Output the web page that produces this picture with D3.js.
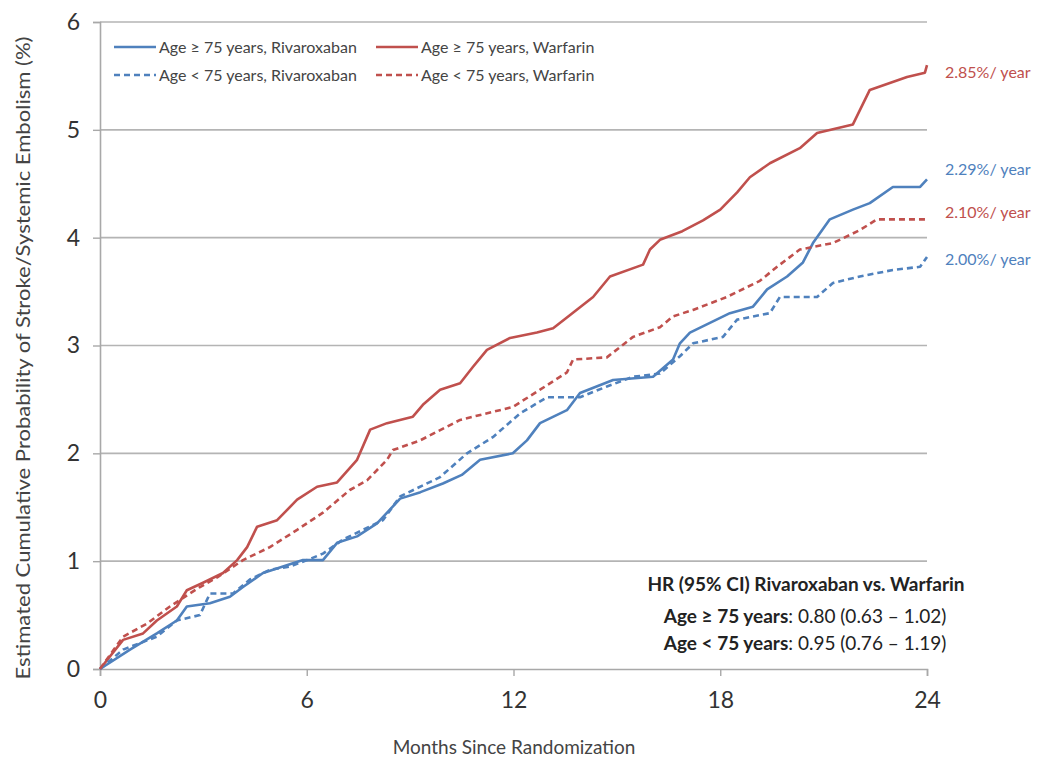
<!DOCTYPE html>
<html>
<head>
<meta charset="utf-8">
<script src="https://cdn.jsdelivr.net/npm/d3@7"></script>
<style>
  html, body { margin: 0; padding: 0; background: #fff; }
  svg { display: block; font-family: Lato, "Open Sans", sans-serif; }
</style>
</head>
<body>
<svg id="chart" width="1039" height="757"></svg>
<script>
// Cumulative incidence of stroke/systemic embolism, [month, %]
const rivaroxabanOld = [
  [0,0],[0.87,0.18],[1.65,0.33],[2.23,0.45],[2.52,0.58],[3.19,0.61],[3.77,0.67],[4.15,0.76],
  [4.73,0.89],[5.31,0.95],[5.89,1.01],[6.47,1.01],[6.88,1.17],[7.46,1.23],[8.04,1.35],[8.42,1.48],
  [8.71,1.58],[9.3,1.64],[9.95,1.72],[10.5,1.8],[11.03,1.94],[11.98,2.00],[12.39,2.12],[12.77,2.28],
  [13.55,2.40],[13.93,2.56],[14.89,2.68],[16.05,2.71],[16.63,2.87],[16.83,3.02],[17.12,3.12],
  [17.70,3.21],[18.28,3.30],[18.95,3.36],[19.36,3.52],[19.94,3.64],[20.40,3.77],[20.69,3.95],
  [21.18,4.17],[21.85,4.26],[22.34,4.32],[23.01,4.47],[23.80,4.47],[24,4.54]
];
const warfarinOld = [
  [0,0],[0.67,0.27],[1.25,0.33],[1.65,0.45],[2.23,0.58],[2.52,0.73],[2.99,0.80],[3.57,0.89],
  [3.98,1.01],[4.27,1.13],[4.56,1.32],[5.14,1.38],[5.72,1.57],[6.30,1.69],[6.88,1.73],[7.46,1.94],
  [7.84,2.22],[8.33,2.28],[9.08,2.34],[9.37,2.45],[9.87,2.59],[10.45,2.65],[10.82,2.80],[11.23,2.96],
  [11.90,3.07],[12.68,3.12],[13.15,3.16],[13.55,3.26],[14.31,3.45],[14.80,3.64],[15.76,3.75],
  [15.96,3.89],[16.25,3.98],[16.9,4.06],[17.50,4.16],[18.0,4.26],[18.49,4.42],[18.86,4.56],
  [19.44,4.69],[20.31,4.83],[20.81,4.97],[21.85,5.05],[22.34,5.37],[23.42,5.49],[23.94,5.53],[24,5.6]
];
const rivaroxabanYoung = [
  [0,0],[0.67,0.18],[1.65,0.30],[2.23,0.45],[2.90,0.50],[3.19,0.70],[3.86,0.70],[4.35,0.83],
  [4.93,0.92],[5.51,0.95],[6.01,1.01],[6.47,1.07],[7.05,1.20],[7.63,1.29],[8.21,1.38],[8.71,1.60],
  [9.87,1.78],[10.65,2.00],[11.40,2.15],[12.19,2.37],[12.97,2.52],[13.93,2.52],[14.71,2.62],
  [15.47,2.71],[16.25,2.74],[16.83,2.90],[17.21,3.02],[18.08,3.08],[18.49,3.24],[19.44,3.30],
  [19.73,3.45],[20.81,3.45],[21.27,3.58],[22.05,3.64],[23.01,3.70],[23.80,3.73],[24,3.82]
];
const warfarinYoung = [
  [0,0],[0.67,0.30],[1.36,0.42],[2.03,0.58],[2.90,0.76],[3.40,0.85],[4.15,1.01],[4.93,1.13],
  [5.72,1.29],[6.47,1.45],[7.25,1.66],[7.75,1.75],[8.33,1.94],[8.50,2.03],[9.29,2.12],[10.45,2.31],
  [11.98,2.43],[12.77,2.59],[13.55,2.75],[13.73,2.87],[14.71,2.89],[15.47,3.08],[16.25,3.17],
  [16.63,3.27],[17.21,3.33],[18.19,3.45],[19.15,3.60],[19.65,3.73],[20.31,3.89],[21.27,3.95],
  [22.05,4.07],[22.55,4.17],[24,4.17]
];

const xTicks = [0, 6, 12, 18, 24];
const yTicks = [0, 1, 2, 3, 4, 5, 6];
const legendLabels = [
  "Age \u2265 75 years, Rivaroxaban", "Age \u2265 75 years, Warfarin",
  "Age < 75 years, Rivaroxaban", "Age < 75 years, Warfarin"
];
const rateLabels = ["2.85%/ year", "2.29%/ year", "2.10%/ year", "2.00%/ year"];
const hrTitle = "HR (95% CI) Rivaroxaban vs. Warfarin";
const hrGroups = ["Age \u2265 75 years", "Age < 75 years"];
const hrValues = [": 0.80 (0.63 \u2013 1.02)", ": 0.95 (0.76 \u2013 1.19)"];

const BLUE = "#4f81bd", RED = "#c0504d";
const series = [
  { data: rivaroxabanOld,   color: BLUE, dash: null,  label: legendLabels[0] },
  { data: warfarinOld,      color: RED,  dash: null,  label: legendLabels[1] },
  { data: rivaroxabanYoung, color: BLUE, dash: "6,4", label: legendLabels[2] },
  { data: warfarinYoung,    color: RED,  dash: "6,4", label: legendLabels[3] }
];

const svg = d3.select("#chart");
const x = d3.scaleLinear().domain([0, 24]).range([100, 927]);
const y = d3.scaleLinear().domain([0, 6]).range([669, 22]);

// gridlines
svg.append("g").selectAll("line").data(yTicks.filter(d => d > 0)).join("line")
  .attr("x1", x(0)).attr("x2", x(24))
  .attr("y1", d => y(d)).attr("y2", d => y(d))
  .attr("stroke", "#b4b4b4").attr("stroke-width", 1.6);

// y axis
const yAxis = svg.append("g").attr("transform", `translate(${x(0)},0)`)
  .call(d3.axisLeft(y).tickValues(yTicks).tickSize(7).tickPadding(13).tickFormat(d3.format("d")));
yAxis.select(".domain").attr("stroke", "#a8a8a8").attr("stroke-width", 1.6);
yAxis.selectAll(".tick line").attr("stroke", "#a8a8a8").attr("stroke-width", 1.4);
yAxis.selectAll("text").attr("font-size", 23).attr("fill", "#333").attr("font-family", "Lato, sans-serif");

// x axis
const xAxis = svg.append("g").attr("transform", `translate(0,${y(0)})`)
  .call(d3.axisBottom(x).tickValues(xTicks).tickSize(7).tickPadding(16).tickFormat(d3.format("d")));
xAxis.select(".domain").attr("stroke", "#a8a8a8").attr("stroke-width", 1.6);
xAxis.selectAll(".tick line").attr("stroke", "#a8a8a8").attr("stroke-width", 1.4);
xAxis.selectAll("text").attr("font-size", 23).attr("fill", "#333").attr("font-family", "Lato, sans-serif");

// axis titles
svg.append("text").attr("x", 514).attr("y", 754).attr("text-anchor", "middle")
  .attr("font-size", 19).attr("fill", "#444").text("Months Since Randomization");
svg.append("text").attr("transform", "translate(30,358) rotate(-90)").attr("text-anchor", "middle")
  .attr("font-size", 20).attr("fill", "#444")
  .attr("textLength", 643).attr("lengthAdjust", "spacingAndGlyphs")
  .text("Estimated Cumulative Probability of Stroke/Systemic Embolism (%)");

// curves
const line = d3.line().x(d => x(d[0])).y(d => y(d[1])).curve(d3.curveLinear);
svg.append("g").selectAll("path").data(series).join("path")
  .attr("d", d => line(d.data))
  .attr("fill", "none")
  .attr("stroke", d => d.color)
  .attr("stroke-width", 2.6)
  .attr("stroke-dasharray", d => d.dash)
  .attr("stroke-linejoin", "round");

// legend
const legendPos = [[114, 47], [376, 47], [114, 75], [376, 75]];
const lg = svg.append("g").selectAll("g").data(series).join("g")
  .attr("transform", (d, i) => `translate(${legendPos[i][0]},${legendPos[i][1]})`);
lg.append("line").attr("x1", 0).attr("x2", 42).attr("y1", 0).attr("y2", 0)
  .attr("stroke", d => d.color).attr("stroke-width", 2.6).attr("stroke-dasharray", d => d.dash);
lg.append("text").attr("x", 45).attr("y", 6).attr("font-size", 16).attr("fill", "#444")
  .text(d => d.label);

// annual rates at curve ends
const rateInfo = [
  { text: rateLabels[0], color: RED,  y: 73 },
  { text: rateLabels[1], color: BLUE, y: 170 },
  { text: rateLabels[2], color: RED,  y: 213 },
  { text: rateLabels[3], color: BLUE, y: 260 }
];
svg.append("g").selectAll("text").data(rateInfo).join("text")
  .attr("x", 945).attr("y", d => d.y + 5).attr("font-size", 16)
  .attr("fill", d => d.color).text(d => d.text);

// hazard ratio box
const hr = svg.append("g").attr("font-size", 19).attr("fill", "#222").attr("text-anchor", "middle");
hr.append("text").attr("x", 806).attr("y", 591).attr("font-weight", "bold").text(hrTitle);
hrGroups.forEach((g, i) => {
  const t = hr.append("text").attr("x", 805).attr("y", 623 + i * 27);
  t.append("tspan").attr("font-weight", "bold").text(g);
  t.append("tspan").text(hrValues[i]);
});
</script>
</body>
</html>
